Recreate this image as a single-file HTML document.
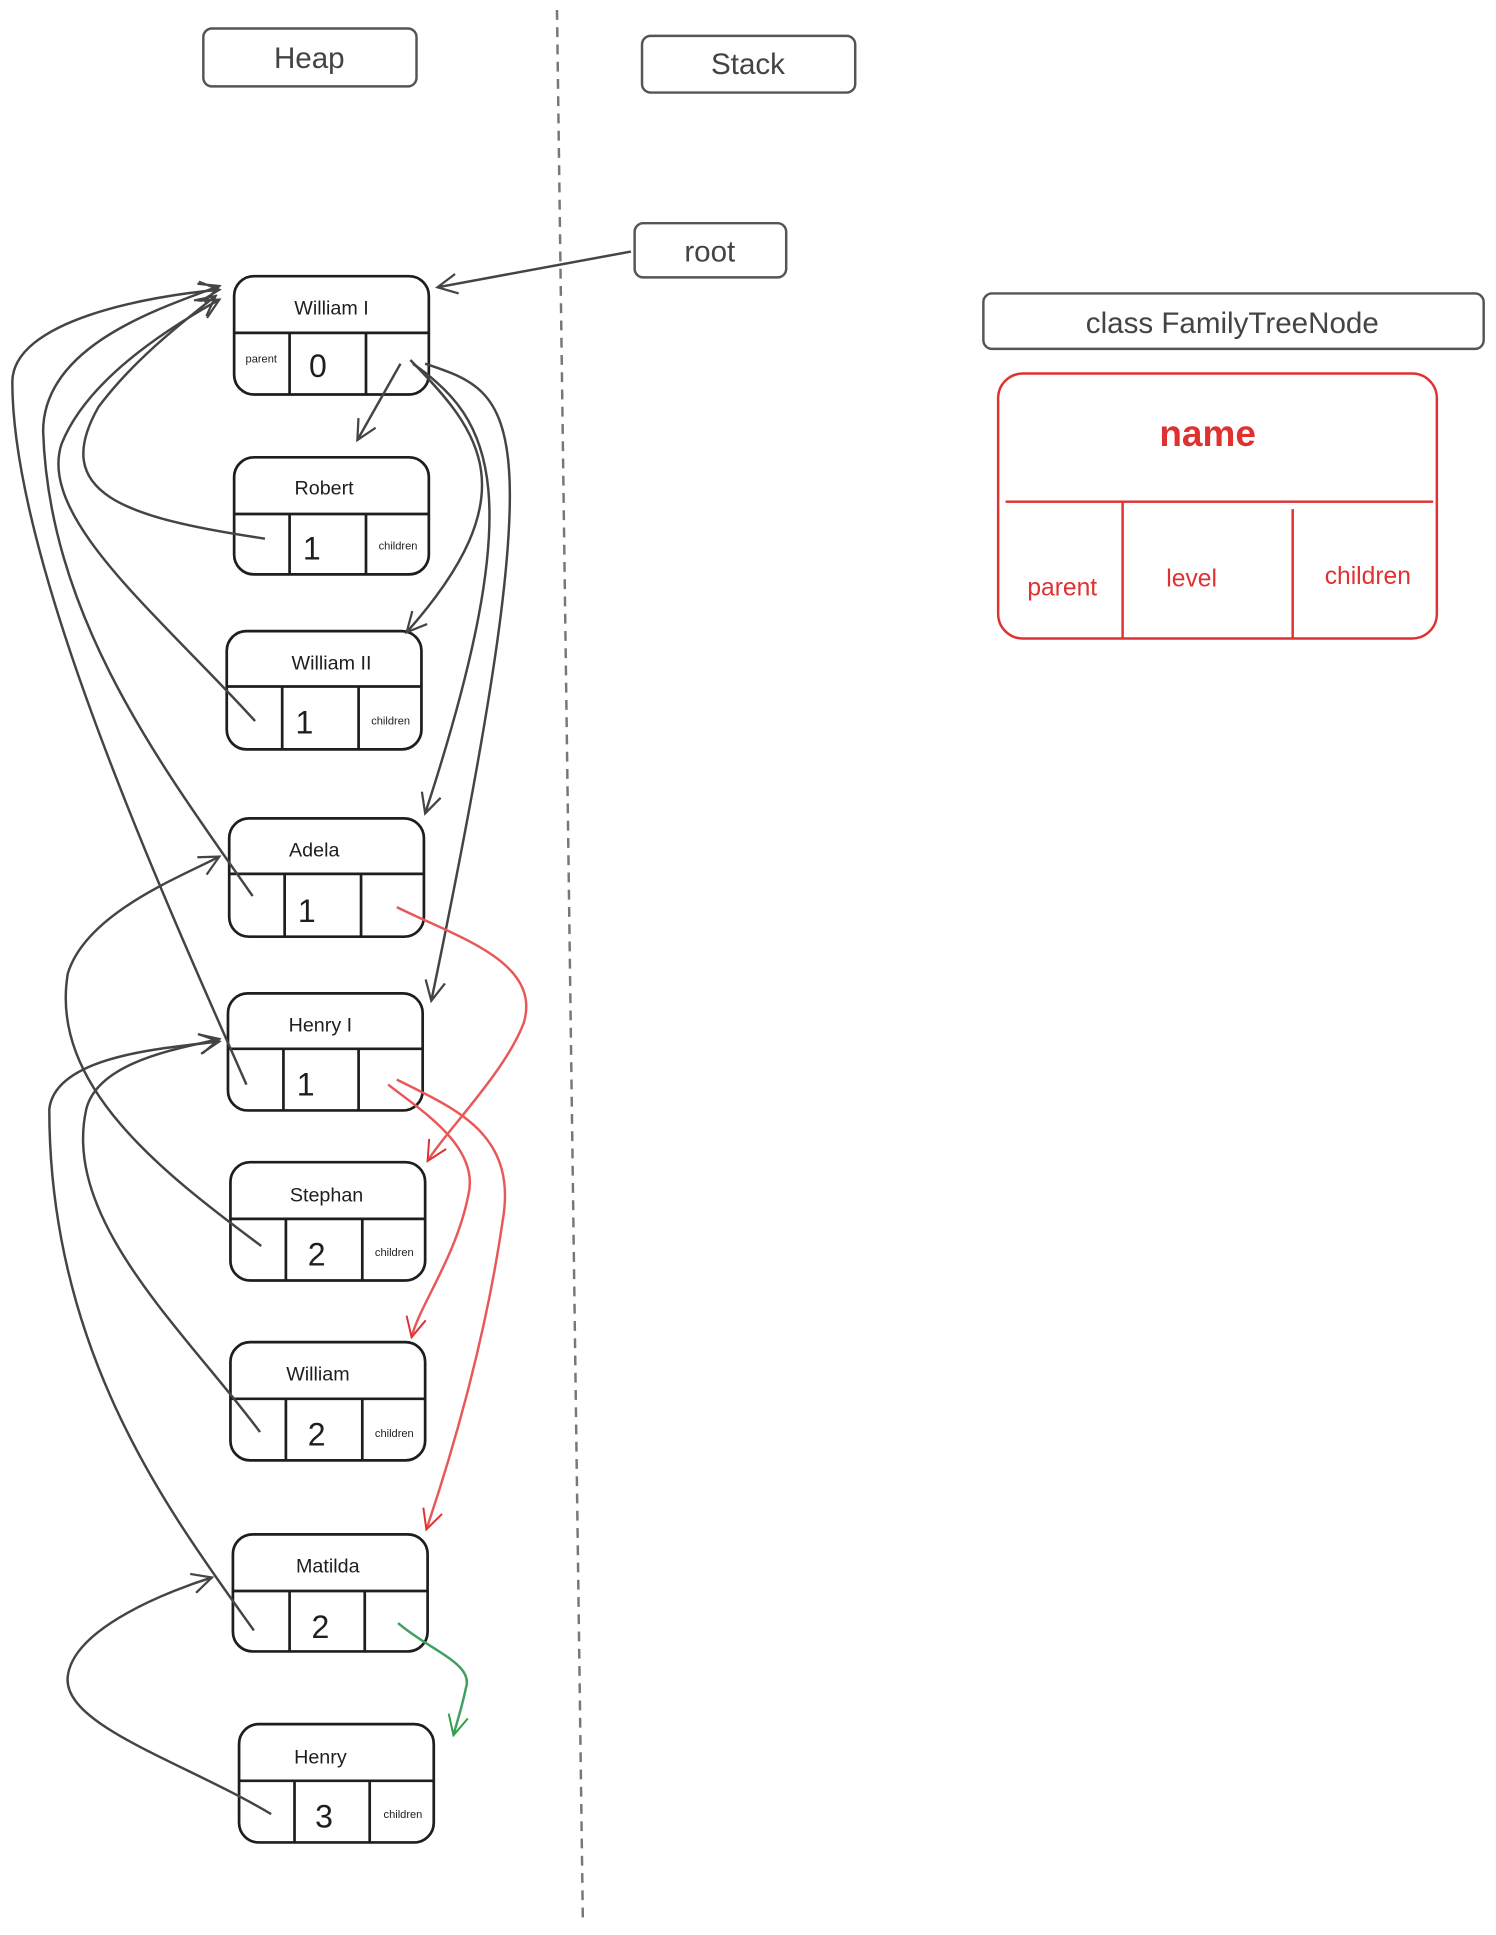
<!DOCTYPE html>
<html><head><meta charset="utf-8"><style>
html,body{margin:0;padding:0;background:#fff;}
svg{display:block;}
text{font-family:"Liberation Sans",sans-serif;}
</style></head><body>
<svg width="1496" height="1935" viewBox="0 0 1214 1570" xmlns="http://www.w3.org/2000/svg">
<defs>
<marker id="ab" viewBox="0 0 20 20" refX="18" refY="10" markerWidth="20" markerHeight="20" markerUnits="userSpaceOnUse" orient="auto"><path d="M2,2 L18,10 L2,18" fill="none" stroke="#444" stroke-width="1.8"/></marker>
<marker id="ar" viewBox="0 0 20 20" refX="18" refY="10" markerWidth="20" markerHeight="20" markerUnits="userSpaceOnUse" orient="auto"><path d="M2,2 L18,10 L2,18" fill="none" stroke="#e03131" stroke-width="1.6"/></marker>
<marker id="ag" viewBox="0 0 20 20" refX="18" refY="10" markerWidth="20" markerHeight="20" markerUnits="userSpaceOnUse" orient="auto"><path d="M2,2 L18,10 L2,18" fill="none" stroke="#2f9e44" stroke-width="1.6"/></marker>
</defs>
<line x1="452" y1="8" x2="473" y2="1560" stroke="#777" stroke-width="2" stroke-dasharray="8,6"/>
<g fill="none" stroke="#555" stroke-width="2">
<rect x="165" y="23" width="173" height="47" rx="7"/>
<rect x="521" y="29" width="173" height="46" rx="7"/>
<rect x="515" y="181" width="123" height="44" rx="7"/>
<rect x="798" y="238" width="406" height="45" rx="7"/>
</g>
<g fill="#444" font-size="24" text-anchor="middle">
<text x="251" y="55">Heap</text>
<text x="607" y="60">Stack</text>
<text x="576" y="212">root</text>
<text x="1000" y="270">class FamilyTreeNode</text>
</g>
<g fill="none" stroke="#e03131" stroke-width="2">
<rect x="810" y="303" width="356" height="215" rx="20"/>
<line x1="816" y1="407" x2="1163" y2="407"/>
<line x1="911" y1="407" x2="911" y2="518"/>
<line x1="1049" y1="413" x2="1049" y2="518"/>
</g>
<g fill="#e03131" text-anchor="middle">
<text x="980" y="362" font-size="30" font-weight="bold">name</text>
<text x="862" y="483" font-size="20">parent</text>
<text x="967" y="476" font-size="20">level</text>
<text x="1110" y="474" font-size="20">children</text>
</g>
<g id="nodes" fill="none" stroke="#1e1e1e" stroke-width="2.2">
<rect x="190" y="224" width="158" height="96" rx="16"/><line x1="190" y1="270" x2="348" y2="270"/><line x1="235" y1="270" x2="235" y2="320"/><line x1="297" y1="270" x2="297" y2="320"/>
<rect x="190" y="371" width="158" height="95" rx="16"/><line x1="190" y1="417" x2="348" y2="417"/><line x1="235" y1="417" x2="235" y2="466"/><line x1="297" y1="417" x2="297" y2="466"/>
<rect x="184" y="512" width="158" height="96" rx="16"/><line x1="184" y1="557" x2="342" y2="557"/><line x1="229" y1="557" x2="229" y2="608"/><line x1="291" y1="557" x2="291" y2="608"/>
<rect x="186" y="664" width="158" height="96" rx="16"/><line x1="186" y1="709" x2="344" y2="709"/><line x1="231" y1="709" x2="231" y2="760"/><line x1="293" y1="709" x2="293" y2="760"/>
<rect x="185" y="806" width="158" height="95" rx="16"/><line x1="185" y1="851" x2="343" y2="851"/><line x1="230" y1="851" x2="230" y2="901"/><line x1="291" y1="851" x2="291" y2="901"/>
<rect x="187" y="943" width="158" height="96" rx="16"/><line x1="187" y1="989" x2="345" y2="989"/><line x1="232" y1="989" x2="232" y2="1039"/><line x1="294" y1="989" x2="294" y2="1039"/>
<rect x="187" y="1089" width="158" height="96" rx="16"/><line x1="187" y1="1135" x2="345" y2="1135"/><line x1="232" y1="1135" x2="232" y2="1185"/><line x1="294" y1="1135" x2="294" y2="1185"/>
<rect x="189" y="1245" width="158" height="95" rx="16"/><line x1="189" y1="1291" x2="347" y2="1291"/><line x1="235" y1="1291" x2="235" y2="1340"/><line x1="296" y1="1291" x2="296" y2="1340"/>
<rect x="194" y="1399" width="158" height="96" rx="16"/><line x1="194" y1="1445" x2="352" y2="1445"/><line x1="239" y1="1445" x2="239" y2="1495"/><line x1="300" y1="1445" x2="300" y2="1495"/>
</g>
<g fill="#1e1e1e" text-anchor="middle">
<g font-size="16"><text x="269" y="255">William I</text><text x="263" y="401">Robert</text><text x="269" y="543">William II</text><text x="255" y="695">Adela</text><text x="260" y="837">Henry I</text><text x="265" y="975">Stephan</text><text x="258" y="1120">William</text><text x="266" y="1276">Matilda</text><text x="260" y="1431">Henry</text></g>
<g font-size="26"><text x="258" y="306">0</text><text x="253" y="454">1</text><text x="247" y="595">1</text><text x="249" y="748">1</text><text x="248" y="889">1</text><text x="257" y="1027">2</text><text x="257" y="1173">2</text><text x="260" y="1329">2</text><text x="263" y="1483">3</text></g>
<g font-size="9"><text x="212" y="294">parent</text><text x="323" y="446">children</text><text x="317" y="588">children</text><text x="320" y="1019">children</text><text x="320" y="1166">children</text><text x="327" y="1475">children</text></g>
</g>
<g fill="none" stroke="#444" stroke-width="2" marker-end="url(#ab)">
<path d="M512,204 L355,233"/>
<path d="M325,295 L290,357"/>
<path d="M333,292 C390,350 430,400 330,513"/>
<path d="M335,295 C400,340 430,400 345,660"/>
<path d="M345,295 C420,320 450,330 350,812"/>
<path d="M215,437 C100,420 40,400 80,330 C110,290 150,260 175,240"/>
<path d="M207,585 C130,500 30,420 50,360 C70,310 130,270 178,243"/>
<path d="M205,727 C130,620 40,500 35,350 C35,280 130,250 178,232"/>
<path d="M200,880 C120,700 10,450 10,310 C10,260 120,240 178,235"/>
<path d="M212,1011 C130,950 40,880 55,790 C70,740 150,710 178,695"/>
<path d="M211,1162 C150,1080 50,990 70,900 C80,860 150,850 178,843"/>
<path d="M206,1323 C140,1230 40,1100 40,900 C45,855 140,850 178,845"/>
<path d="M220,1472 C150,1430 50,1400 55,1360 C60,1320 140,1290 172,1280"/>
</g>
<g fill="none" stroke="#e85858" stroke-width="2" marker-end="url(#ar)">
<path d="M322,736 C370,760 440,780 425,830 C410,870 360,920 347,942"/>
<path d="M315,880 C340,900 390,930 380,970 C370,1020 340,1060 334,1085"/>
<path d="M322,876 C370,900 420,920 408,990 C395,1080 370,1170 346,1241"/>
</g>
<path d="M323,1317 C350,1340 385,1350 378,1370 C375,1385 370,1400 368,1408" fill="none" stroke="#40a060" stroke-width="2" marker-end="url(#ag)"/>
</svg>
</body></html>
